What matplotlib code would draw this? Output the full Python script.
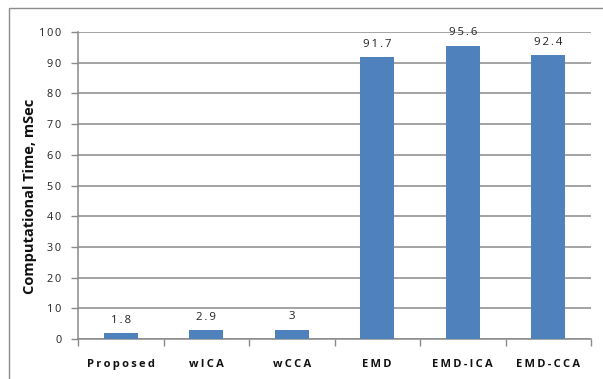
import matplotlib
matplotlib.use("Agg")
import matplotlib.pyplot as plt
from matplotlib.patches import Rectangle

methods = ["Proposed", "wICA", "wCCA", "EMD", "EMD-ICA", "EMD-CCA"]
times_ms = [1.8, 2.9, 3, 91.7, 95.6, 92.4]
value_labels = ["1.8", "2.9", "3", "91.7", "95.6", "92.4"]
y_ticks = [0, 10, 20, 30, 40, 50, 60, 70, 80, 90, 100]


def spaced(s):
    # widen letter spacing with thin spaces
    return "\u2009".join(s)


plt.rcParams["font.family"] = ["Open Sans", "DejaVu Sans"]

W, H = 603, 379
fig = plt.figure(figsize=(W / 100, H / 100), dpi=100)
fig.patch.set_facecolor("white")

# outer chart frame
fig.patches.append(Rectangle((9 / W, -0.05), 1.1, 1 - 8 / H + 0.05,
                             transform=fig.transFigure, fill=False,
                             edgecolor="#8c8c8c", linewidth=1.0))

ax = fig.add_axes([78 / W, 1 - 339 / H, (591 - 78) / W, (339 - 32) / H])
grid_c = "#8a8a8a"
x = list(range(len(methods)))
bars = ax.bar(x, times_ms, width=0.4, color="#4f81bd", zorder=3)

ax.set_xlim(-0.5, len(methods) - 0.5)
ax.set_ylim(0, 100)
ax.set_yticks(y_ticks)
ax.set_yticklabels([spaced(str(v)) for v in y_ticks], fontsize=7.8, color="#222222")
ax.yaxis.grid(True, color=grid_c, linewidth=1.1, zorder=0)
ax.set_axisbelow(True)

ax.set_xticks([i + 0.5 for i in range(-1, len(methods))])
ax.set_xticklabels([])
ax.tick_params(axis="x", length=5, color=grid_c, width=1.0)
ax.tick_params(axis="y", length=5, color=grid_c, width=1.0, pad=7)
for i, m in enumerate(methods):
    ax.text(i, -8.4, spaced(m), ha="center", va="center", fontsize=8,
            fontweight="bold", color="#111111")

for s in ["top", "right"]:
    ax.spines[s].set_visible(False)
for s in ["left", "bottom"]:
    ax.spines[s].set_color(grid_c)
    ax.spines[s].set_linewidth(1.1)

for rect, lab in zip(bars, value_labels):
    ax.annotate(spaced(lab), (rect.get_x() + rect.get_width() / 2, rect.get_height()),
                xytext=(0, 13), textcoords="offset pixels",
                ha="center", va="center", fontsize=8.2, color="#222222")

fig.text(30 / W, 1 - 196 / H, "Computational Time, mSec", rotation=90,
         ha="center", va="center", fontsize=10.5, fontweight="bold", color="#111111")

fig.savefig("out.png", dpi=100)
